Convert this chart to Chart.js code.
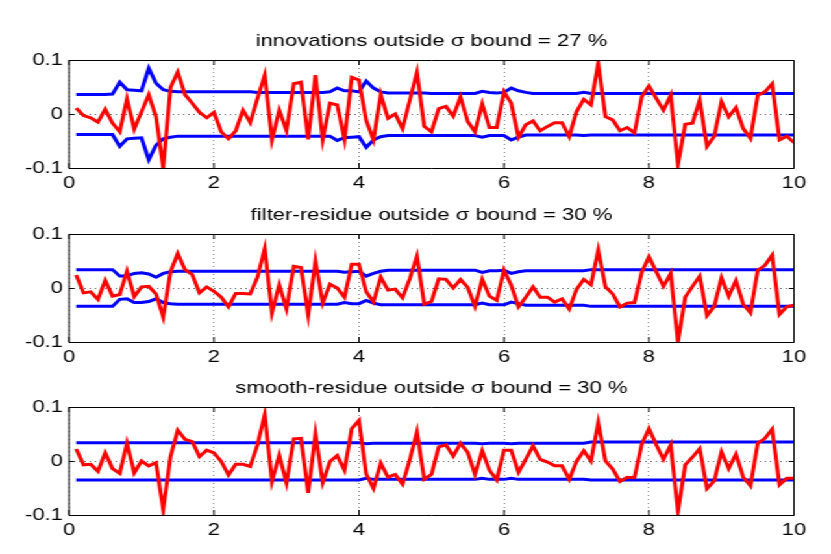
<!DOCTYPE html>
<html>
<head>
<meta charset="utf-8">
<script src="https://cdn.jsdelivr.net/npm/chart.js@4/dist/chart.umd.min.js"></script>
<style>
  html, body { margin: 0; padding: 0; background: #ffffff; }
  body { width: 831px; height: 554px; position: relative; overflow: hidden; }
  /* the reference figure is horizontally stretched; emulate with scaleX */
  #wrap { position: absolute; left: 0; top: 0; width: 640px; height: 554px;
          transform: scaleX(1.2984); transform-origin: 0 0; }
  .panel { position: absolute; left: 0; width: 640px; height: 200px; }
</style>
</head>
<body>
<div id="wrap">
  <div class="panel" style="top:0px"><canvas id="c1"></canvas></div>
  <div class="panel" style="top:174px"><canvas id="c2"></canvas></div>
  <div class="panel" style="top:347px"><canvas id="c3"></canvas></div>
</div>
<script>
// ---- data ----
const titles = [
  "innovations outside \u03C3 bound = 27 %",
  "filter-residue outside \u03C3 bound = 30 %",
  "smooth-residue outside \u03C3 bound = 30 %"
];

const t = [0.1,0.2,0.3,0.4,0.5,0.6,0.7,0.8,0.9,1.0,
  1.1,1.2,1.3,1.4,1.5,1.6,1.7,1.8,1.9,2.0,
  2.1,2.2,2.3,2.4,2.5,2.6,2.7,2.8,2.9,3.0,
  3.1,3.2,3.3,3.4,3.5,3.6,3.7,3.8,3.9,4.0,
  4.1,4.2,4.3,4.4,4.5,4.6,4.7,4.8,4.9,5.0,
  5.1,5.2,5.3,5.4,5.5,5.6,5.7,5.8,5.9,6.0,
  6.1,6.2,6.3,6.4,6.5,6.6,6.7,6.8,6.9,7.0,
  7.1,7.2,7.3,7.4,7.5,7.6,7.7,7.8,7.9,8.0,
  8.1,8.2,8.3,8.4,8.5,8.6,8.7,8.8,8.9,9.0,
  9.1,9.2,9.3,9.4,9.5,9.6,9.7,9.8,9.9,10.0];

const xTicks = [0, 2, 4, 6, 8, 10];
const yTicks = [-0.1, 0, 0.1];

// panel 1: innovations
const innov = [0.011,-0.003,-0.007,-0.015,0.009,-0.017,-0.033,0.028,-0.028,0.004,
  0.036,-0.005,-0.100,0.049,0.078,0.036,0.020,0.003,-0.007,0.003,
  -0.033,-0.046,-0.031,0.007,-0.016,0.029,0.072,-0.048,0.007,-0.031,
  0.056,0.059,-0.047,0.072,-0.048,0.020,0.017,-0.047,0.068,0.063,
  -0.012,-0.048,0.036,-0.008,0.000,-0.027,0.025,0.077,-0.023,-0.033,
  0.010,0.014,-0.004,0.032,-0.014,-0.033,0.019,-0.025,-0.025,0.041,
  0.020,-0.043,-0.020,-0.013,-0.031,-0.023,-0.016,-0.016,-0.042,0.004,
  0.027,0.017,0.094,-0.005,-0.011,-0.031,-0.025,-0.035,0.032,0.052,
  0.029,0.007,0.035,-0.094,-0.019,-0.017,0.026,-0.060,-0.041,0.023,
  -0.005,0.012,-0.027,-0.045,0.035,0.041,0.056,-0.048,-0.041,-0.053];
const innovUp = [0.036,0.036,0.036,0.036,0.036,0.037,0.059,0.045,0.044,0.043,
  0.085,0.057,0.045,0.042,0.041,0.041,0.041,0.041,0.041,0.041,
  0.041,0.041,0.041,0.041,0.041,0.040,0.040,0.040,0.040,0.040,
  0.040,0.040,0.040,0.040,0.040,0.041,0.048,0.043,0.043,0.041,
  0.061,0.048,0.041,0.039,0.039,0.039,0.039,0.039,0.039,0.038,
  0.038,0.038,0.038,0.038,0.038,0.038,0.042,0.040,0.039,0.040,
  0.048,0.043,0.040,0.038,0.038,0.038,0.038,0.038,0.038,0.038,
  0.040,0.038,0.038,0.038,0.038,0.038,0.038,0.038,0.038,0.038,
  0.038,0.038,0.038,0.038,0.038,0.038,0.038,0.038,0.038,0.038,
  0.038,0.038,0.038,0.038,0.038,0.038,0.038,0.038,0.038,0.038];
const innovLo = [-0.038,-0.038,-0.038,-0.038,-0.038,-0.038,-0.060,-0.046,-0.045,-0.044,
  -0.085,-0.058,-0.046,-0.043,-0.041,-0.041,-0.041,-0.041,-0.041,-0.041,
  -0.041,-0.041,-0.041,-0.041,-0.041,-0.041,-0.041,-0.041,-0.041,-0.041,
  -0.041,-0.041,-0.041,-0.041,-0.041,-0.041,-0.049,-0.044,-0.043,-0.042,
  -0.062,-0.048,-0.042,-0.040,-0.040,-0.040,-0.040,-0.040,-0.040,-0.040,
  -0.040,-0.040,-0.040,-0.040,-0.040,-0.040,-0.043,-0.040,-0.040,-0.040,
  -0.048,-0.043,-0.039,-0.039,-0.039,-0.039,-0.039,-0.039,-0.039,-0.039,
  -0.040,-0.039,-0.039,-0.039,-0.039,-0.039,-0.039,-0.039,-0.039,-0.039,
  -0.039,-0.039,-0.039,-0.039,-0.039,-0.039,-0.039,-0.039,-0.039,-0.039,
  -0.039,-0.039,-0.039,-0.039,-0.039,-0.039,-0.039,-0.039,-0.039,-0.039];

// panel 2: filter residue
const filt = [0.024,-0.009,-0.007,-0.021,0.014,-0.015,-0.012,0.031,-0.016,0.002,
  0.003,-0.011,-0.054,0.030,0.064,0.034,0.025,-0.009,0.002,-0.006,
  -0.017,-0.035,-0.010,-0.010,-0.011,0.020,0.073,-0.046,0.006,-0.039,
  0.040,0.038,-0.050,0.050,-0.028,0.007,0.000,-0.017,0.044,0.044,
  -0.007,-0.026,0.020,-0.004,-0.002,-0.018,0.017,0.059,-0.030,-0.025,
  0.017,0.016,0.000,0.016,0.001,-0.034,0.016,-0.015,-0.023,0.033,
  0.005,-0.035,-0.017,0.002,-0.017,-0.017,-0.026,-0.020,-0.039,-0.003,
  0.016,0.006,0.070,0.002,-0.011,-0.035,-0.028,-0.027,0.029,0.058,
  0.030,0.003,0.027,-0.100,-0.017,0.003,0.022,-0.051,-0.034,0.019,
  -0.015,0.014,-0.030,-0.046,0.033,0.042,0.061,-0.049,-0.035,-0.032];
const filtUp = [0.034,0.034,0.034,0.034,0.034,0.034,0.022,0.022,0.027,0.028,
  0.026,0.020,0.027,0.030,0.031,0.031,0.031,0.031,0.031,0.031,
  0.031,0.031,0.031,0.031,0.031,0.031,0.031,0.031,0.031,0.031,
  0.031,0.031,0.031,0.031,0.031,0.031,0.031,0.029,0.030,0.031,
  0.022,0.027,0.031,0.033,0.033,0.033,0.033,0.033,0.033,0.033,
  0.033,0.033,0.033,0.033,0.033,0.033,0.029,0.032,0.032,0.033,
  0.027,0.030,0.032,0.032,0.032,0.032,0.032,0.032,0.032,0.032,
  0.032,0.034,0.034,0.034,0.034,0.034,0.034,0.034,0.034,0.034,
  0.034,0.034,0.034,0.034,0.034,0.034,0.034,0.034,0.034,0.034,
  0.034,0.034,0.034,0.034,0.034,0.034,0.034,0.034,0.034,0.034];
const filtLo = [-0.034,-0.034,-0.034,-0.034,-0.034,-0.034,-0.021,-0.020,-0.027,-0.027,
  -0.025,-0.020,-0.027,-0.029,-0.030,-0.030,-0.030,-0.030,-0.030,-0.030,
  -0.030,-0.030,-0.030,-0.030,-0.030,-0.030,-0.030,-0.030,-0.030,-0.030,
  -0.030,-0.030,-0.030,-0.030,-0.030,-0.030,-0.030,-0.027,-0.029,-0.029,
  -0.023,-0.028,-0.031,-0.031,-0.031,-0.031,-0.031,-0.031,-0.031,-0.031,
  -0.031,-0.031,-0.031,-0.031,-0.031,-0.031,-0.028,-0.031,-0.031,-0.031,
  -0.026,-0.029,-0.032,-0.032,-0.032,-0.032,-0.032,-0.032,-0.032,-0.032,
  -0.032,-0.034,-0.034,-0.034,-0.034,-0.034,-0.034,-0.034,-0.034,-0.034,
  -0.034,-0.034,-0.034,-0.034,-0.034,-0.034,-0.034,-0.034,-0.034,-0.034,
  -0.034,-0.034,-0.034,-0.034,-0.034,-0.034,-0.034,-0.034,-0.034,-0.034];

// panel 3: smooth residue
const smooth = [0.022,-0.007,-0.006,-0.019,0.015,-0.014,-0.023,0.033,-0.022,0.000,
  -0.009,-0.003,-0.090,0.008,0.057,0.040,0.036,0.008,0.020,0.015,
  -0.001,-0.026,-0.006,-0.006,-0.010,0.030,0.086,-0.038,0.011,-0.041,
  0.041,0.042,-0.059,0.050,-0.040,-0.001,0.010,-0.017,0.060,0.075,
  -0.024,-0.051,-0.004,-0.030,-0.025,-0.043,0.002,0.054,-0.034,-0.025,
  0.026,0.030,0.009,0.033,0.016,-0.025,0.019,-0.017,-0.035,0.020,
  0.020,-0.021,0.003,0.028,0.003,-0.002,-0.009,-0.009,-0.034,-0.001,
  0.019,0.000,0.071,0.000,-0.015,-0.038,-0.030,-0.031,0.031,0.060,
  0.030,0.003,0.030,-0.094,-0.007,0.007,0.023,-0.051,-0.037,0.017,
  -0.014,0.013,-0.030,-0.046,0.033,0.042,0.059,-0.044,-0.032,-0.032];
const smoothUp = [0.034,0.034,0.034,0.034,0.034,0.034,0.034,0.034,0.034,0.034,
  0.034,0.034,0.034,0.034,0.034,0.034,0.034,0.034,0.034,0.034,
  0.034,0.034,0.034,0.034,0.034,0.034,0.034,0.034,0.034,0.034,
  0.034,0.034,0.034,0.034,0.034,0.034,0.034,0.034,0.034,0.034,
  0.032,0.033,0.033,0.033,0.033,0.033,0.033,0.033,0.033,0.033,
  0.033,0.033,0.033,0.033,0.033,0.033,0.032,0.033,0.033,0.033,
  0.032,0.033,0.033,0.033,0.033,0.033,0.033,0.033,0.033,0.033,
  0.033,0.035,0.035,0.035,0.035,0.035,0.035,0.035,0.035,0.035,
  0.035,0.035,0.035,0.035,0.035,0.035,0.035,0.035,0.035,0.035,
  0.035,0.035,0.035,0.035,0.035,0.035,0.035,0.035,0.035,0.035];
const smoothLo = [-0.035,-0.035,-0.035,-0.035,-0.035,-0.035,-0.035,-0.035,-0.035,-0.035,
  -0.035,-0.035,-0.035,-0.035,-0.035,-0.035,-0.035,-0.035,-0.035,-0.035,
  -0.035,-0.035,-0.035,-0.035,-0.035,-0.035,-0.035,-0.035,-0.035,-0.035,
  -0.035,-0.035,-0.035,-0.035,-0.035,-0.035,-0.035,-0.035,-0.035,-0.035,
  -0.032,-0.034,-0.034,-0.034,-0.034,-0.034,-0.034,-0.034,-0.034,-0.034,
  -0.034,-0.034,-0.034,-0.034,-0.034,-0.034,-0.032,-0.034,-0.034,-0.034,
  -0.032,-0.034,-0.034,-0.034,-0.034,-0.034,-0.034,-0.034,-0.034,-0.034,
  -0.034,-0.035,-0.035,-0.035,-0.035,-0.035,-0.035,-0.035,-0.035,-0.035,
  -0.035,-0.035,-0.035,-0.035,-0.035,-0.035,-0.035,-0.035,-0.035,-0.035,
  -0.035,-0.035,-0.035,-0.035,-0.035,-0.035,-0.035,-0.035,-0.035,-0.035];

// ---- drawing ----
const FONT = "'Liberation Sans', Arial, Helvetica, sans-serif";
const SX = 1.2984; // horizontal stretch of the wrapper

const framePlugin = {
  id: 'frame',
  afterDraw(chart) {
    const {ctx, chartArea: a, scales} = chart;
    ctx.save();
    ctx.strokeStyle = '#000';
    ctx.lineWidth = 1;
    ctx.beginPath();
    ctx.rect(a.left, Math.round(a.top) + 0.5, a.right - a.left, Math.round(a.bottom - a.top));
    ctx.stroke();
    const LV = 5, LH = 5 / SX;
    ctx.beginPath();
    xTicks.forEach(v => {
      const x = scales.x.getPixelForValue(v);
      ctx.moveTo(x, a.bottom); ctx.lineTo(x, a.bottom - LV);
      ctx.moveTo(x, a.top); ctx.lineTo(x, a.top + LV);
    });
    yTicks.forEach(v => {
      const y = Math.round(scales.y.getPixelForValue(v)) + 0.5;
      ctx.moveTo(a.left, y); ctx.lineTo(a.left + LH, y);
      ctx.moveTo(a.right, y); ctx.lineTo(a.right - LH, y);
    });
    ctx.stroke();
    ctx.restore();
  }
};

function pts(vals) { return t.map((x, i) => ({x: x, y: vals[i]})); }

function makeChart(id, title, red, up, lo) {
  new Chart(document.getElementById(id), {
    type: 'line',
    data: {
      datasets: [
        {data: pts(red), borderColor: '#ff0000', borderWidth: 3, pointRadius: 0, order: 0, tension: 0},
        {data: pts(up), borderColor: '#0000ff', borderWidth: 3, pointRadius: 0, order: 1, tension: 0},
        {data: pts(lo), borderColor: '#0000ff', borderWidth: 3, pointRadius: 0, order: 1, tension: 0}
      ]
    },
    options: {
      responsive: true,
      maintainAspectRatio: false,
      animation: false,
      events: [],
      layout: {padding: {top: 31, right: 37 / SX, bottom: 0, left: 0}},
      plugins: {
        legend: {display: false},
        tooltip: {enabled: false},
        title: {
          display: true, text: title, fullSize: false, color: '#000',
          font: {family: FONT, size: 17, weight: 'normal', lineHeight: 1.2},
          padding: {top: 0, bottom: 8.6}
        }
      },
      scales: {
        x: {
          type: 'linear', min: 0, max: 10,
          afterBuildTicks(s) { s.ticks = xTicks.map(v => ({value: v})); },
          afterFit(s) { s.height = 32; },
          grid: {display: true, color: '#666', lineWidth: 1 / SX, drawTicks: false},
          border: {display: false, dash: [1, 3]},
          ticks: {color: '#000', padding: 5, maxRotation: 0,
                  font: {family: FONT, size: 17},
                  callback: v => String(v)}
        },
        y: {
          type: 'linear', min: -0.1, max: 0.1,
          afterBuildTicks(s) { s.ticks = yTicks.map(v => ({value: v})); },
          afterFit(s) { s.width = 69 / SX; },
          grid: {display: true, color: '#666', lineWidth: 1, drawTicks: false},
          border: {display: false, dash: [1, 3]},
          ticks: {color: '#000', padding: 4.6,
                  font: {family: FONT, size: 17},
                  callback: v => String(Number(v.toFixed(1)))}
        }
      }
    },
    plugins: [framePlugin]
  });
}

makeChart('c1', titles[0], innov, innovUp, innovLo);
makeChart('c2', titles[1], filt, filtUp, filtLo);
makeChart('c3', titles[2], smooth, smoothUp, smoothLo);
</script>
</body>
</html>
